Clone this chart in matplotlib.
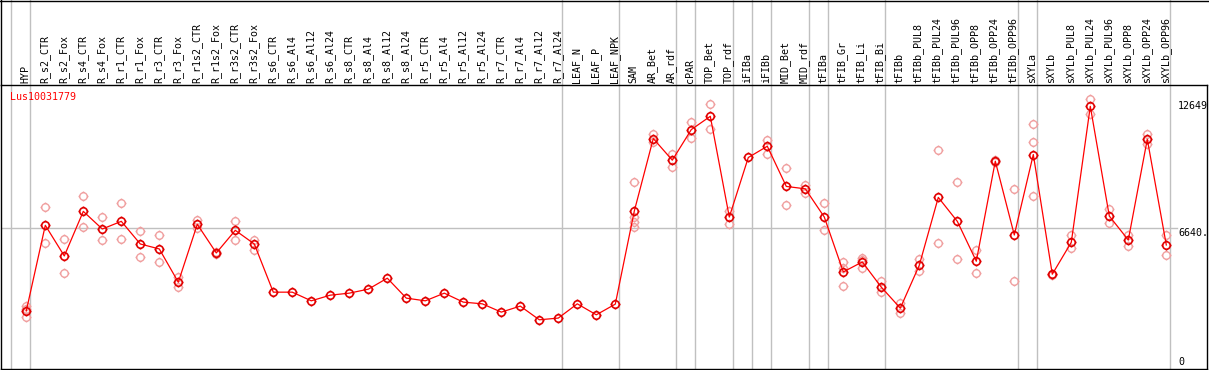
#!/usr/bin/env python3
"""Expression profile of Lus10031779 across flax tissues (means + replicates)."""

import matplotlib

matplotlib.use("Agg")
import matplotlib.pyplot as plt
from matplotlib.lines import Line2D
from matplotlib.path import Path

GENE = "Lus10031779"

samples = [
    "HYP", "R_s2_CTR", "R_s2_Fox", "R_s4_CTR", "R_s4_Fox", "R_r1_CTR", "R_r1_Fox",
    "R_r3_CTR", "R_r3_Fox", "R_r1s2_CTR", "R_r1s2_Fox", "R_r3s2_CTR", "R_r3s2_Fox",
    "R_s6_CTR", "R_s6_Al4", "R_s6_Al12", "R_s6_Al24", "R_s8_CTR", "R_s8_Al4",
    "R_s8_Al12", "R_s8_Al24", "R_r5_CTR", "R_r5_Al4", "R_r5_Al12", "R_r5_Al24",
    "R_r7_CTR", "R_r7_Al4", "R_r7_Al12", "R_r7_Al24", "LEAF_N", "LEAF_P", "LEAF_NPK",
    "SAM", "AR_Bet", "AR_rdf", "cPAR", "TOP_Bet", "TOP_rdf", "iFIBa", "iFIBb",
    "MID_Bet", "MID_rdf", "tFIBa", "tFIB_Gr", "tFIB_Li", "tFIB_Bi", "tFIBb",
    "tFIBb_PUL8", "tFIBb_PUL24", "tFIBb_PUL96", "tFIBb_OPP8", "tFIBb_OPP24",
    "tFIBb_OPP96", "sXYLa", "sXYLb", "sXYLb_PUL8", "sXYLb_PUL24", "sXYLb_PUL96",
    "sXYLb_OPP8", "sXYLb_OPP24", "sXYLb_OPP96",
]

means = [
    2551, 6772, 5260, 7461, 6590, 6969, 5851, 5605, 3964, 6821, 5408, 6525, 5851,
    3472, 3472, 3044, 3324, 3423, 3620, 4162, 3177, 3044, 3423, 2980, 2896,
    2487, 2783, 2108, 2192, 2896, 2354, 2881,
    7476, 11057, 9988, 11500, 12155, 7181, 10121, 10677, 8693, 8574, 7181,
    4472, 4964, 3718, 2684, 4802, 8151, 6969, 4999, 9939, 6294,
    10268, 4359, 5935, 12649, 7230, 6048, 11022, 5802,
]

replicates = [
    [2788, 2624, 2241], [7658, 5885], [6082, 4423], [8200, 6673], [7166, 6048],
    [7855, 6082], [6476, 5196], [6279, 4950], [4211, 3748], [7048, 6624],
    [5450, 5370], [6984, 6048], [6048, 5570],
    [], [], [], [], [], [], [], [], [], [], [], [], [], [], [], [], [], [], [],
    [8904, 7195, 6950, 6703], [11268, 10889], [10283, 9628], [11894, 11106],
    [12780, 11515], [7461, 6851], [], [11007, 10318], [9579, 7757], [8742, 8348],
    [7855, 6540], [4979, 4654, 3782], [5176, 5050, 4654], [4043, 3472],
    [2930, 2438], [5112, 4536], [10480, 5885], [8890, 5097], [5555, 4408],
    [9990, 9890], [8545, 4014], [11795, 10909, 8215], [4380, 4340], [6294, 5639],
    [13026, 12253], [7560, 6900], [6294, 5767], [11302, 10776], [6294, 5309],
]

# first column of each sample group (vertical separators)
group_starts = [0, 1, 29, 32, 35, 36, 38, 39, 40, 42, 43, 46, 53, 54, 61]

midline = 6640
midline_label = "6640."

MONO = "DejaVu Sans Mono"
FS = 7.2
GRID = "#c0c0c0"
PINK = "#f0a0a0"


def target_marker() -> Path:
    circle = Path.unit_circle()
    verts = list(circle.vertices)
    codes = list(circle.codes)
    for dx, dy in [(1, 0), (-1, 0), (0, 1), (0, -1)]:
        verts += [(dx, dy), (dx * 1.33, dy * 1.33)]
        codes += [Path.MOVETO, Path.LINETO]
    return Path(verts, codes)


def main() -> int:
    W, H = 1209, 370
    fig = plt.figure(figsize=(W / 100, H / 100), dpi=100)
    ax_top_px, ax_bot_px, ax_l_px, ax_r_px = 85, 369, 1, 1207
    ax = fig.add_axes([
        ax_l_px / W, (H - ax_bot_px) / H,
        (ax_r_px - ax_l_px) / W, (ax_bot_px - ax_top_px) / H,
    ])
    ax_h = ax_bot_px - ax_top_px

    # x: column pitch 19 px, first point at x=26.3 px
    pitch, x0 = 19.0, 26.3
    ax.set_xlim((ax_l_px - x0) / pitch, (ax_r_px - x0) / pitch)
    # y: 12649 at y=106.3 px, 6640 at 228 px
    per_px = (12649 - 6640) / (228 - 106.3)
    zero_px = 228 + 6640 / per_px
    ax.set_ylim((zero_px - ax_bot_px) * per_px, (zero_px - ax_top_px) * per_px)

    ax.set_xticks([])
    ax.set_yticks([])
    for spine in ax.spines.values():
        spine.set_color("black")
        spine.set_linewidth(1.0)

    top_ext = (H - (H - ax_bot_px)) / ax_h
    for g in group_starts:
        ax.axvline(g - 15 / pitch, ymin=0, ymax=top_ext, color=GRID, lw=1.0,
                   clip_on=False, zorder=0)
    ax.axhline(midline, xmin=0, xmax=(1177 - ax_l_px) / (ax_r_px - ax_l_px),
               color=GRID, lw=1.0, zorder=0)

    marker = target_marker()
    for i, reps in enumerate(replicates):
        if reps:
            ax.plot([i] * len(reps), reps, linestyle="none", marker=marker,
                    markersize=7.2, fillstyle="none", markeredgecolor=PINK,
                    markeredgewidth=1.0, zorder=2)
    xs = list(range(len(samples)))
    ax.plot(xs, means, color="red", lw=0.9, zorder=3)
    ax.plot(xs, means, linestyle="none", marker=marker, markersize=7.2,
            fillstyle="none", markeredgecolor="#e00000", markeredgewidth=1.2,
            zorder=4)

    # column labels in the header
    trans = ax.get_xaxis_transform()
    for i, name in enumerate(samples):
        ax.text(i - 0.05, 1 + 2 / ax_h, name, rotation=90, ha="center", va="bottom",
                family=MONO, fontsize=FS, color="black", transform=trans,
                clip_on=False)

    ax.text((10 - ax_l_px) / (ax_r_px - ax_l_px), 1 - (92 - ax_top_px) / ax_h, GENE,
            ha="left", va="top", color="red", family=MONO, fontsize=FS,
            transform=ax.transAxes)

    ylab_trans = ax.get_yaxis_transform()
    lx = (1178 - ax_l_px) / (ax_r_px - ax_l_px)
    ax.text(lx, max(means), str(max(means)), ha="left", va="center", family=MONO,
            fontsize=FS, transform=ylab_trans)
    ax.text(lx, midline, midline_label, ha="left", va="top", family=MONO,
            fontsize=FS, transform=ylab_trans)
    ax.text(lx, 0, "0", ha="left", va="center", family=MONO, fontsize=FS,
            transform=ylab_trans)

    # header frame: top edge and left edge
    fig.add_artist(Line2D([0, 1], [1 - 0.5 / H, 1 - 0.5 / H], color="black", lw=1.0))
    fig.add_artist(Line2D([ax_l_px / W, ax_l_px / W], [(H - ax_top_px) / H, 1],
                          color="black", lw=1.0))

    fig.savefig("out.png", dpi=100, facecolor="white")
    plt.close(fig)
    return 0


if __name__ == "__main__":
    raise SystemExit(main())
